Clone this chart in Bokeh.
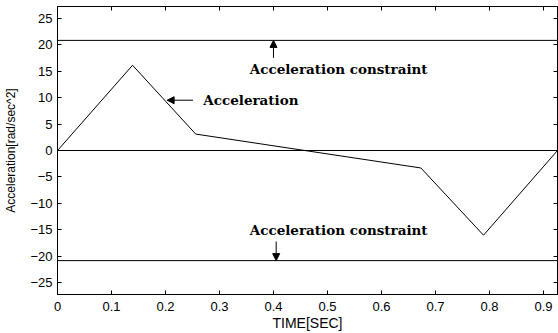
from bokeh.plotting import figure
from bokeh.models import Range1d, LinearAxis, FixedTicker, Arrow, NormalHead, Label, Span
from bokeh.embed import file_html
from bokeh.resources import INLINE

# data
time_s = [0.0, 0.139, 0.256, 0.673, 0.789, 0.926]
accel = [0.0, 16.1, 3.1, -3.3, -16.0, 0.0]
constraint = 20.8
x_ticks = [0, 0.1, 0.2, 0.3, 0.4, 0.5, 0.6, 0.7, 0.8, 0.9]
y_ticks = [-25, -20, -15, -10, -5, 0, 5, 10, 15, 20, 25]

p = figure(width=558, height=333, output_backend="svg", toolbar_location=None,
           x_range=Range1d(0, 0.926), y_range=Range1d(-27.2, 27.2),
           min_border_left=57, min_border_right=1, min_border_top=6, min_border_bottom=39)
p.grid.visible = False
p.outline_line_color = "black"
p.background_fill_color = "white"
p.border_fill_color = "white"

TICK_FONT = "Liberation Sans"

for ax in p.xaxis:
    ax.ticker = FixedTicker(ticks=x_ticks)
    ax.axis_label = "TIME[SEC]"
for ax in p.yaxis:
    ax.ticker = FixedTicker(ticks=y_ticks)
    ax.axis_label = "Acceleration[rad/sec^2]"

for ax in list(p.xaxis) + list(p.yaxis):
    ax.major_tick_in = 4
    ax.major_tick_out = 0
    ax.minor_tick_line_color = None
    ax.axis_line_color = "black"
    ax.major_tick_line_color = "black"
    ax.major_label_text_font = TICK_FONT
    ax.major_label_text_font_size = "13px"
    ax.major_label_text_color = "black"
    ax.axis_label_text_font = TICK_FONT
    ax.axis_label_text_font_style = "normal"
    ax.axis_label_text_color = "black"

p.xaxis.major_label_standoff = 7
p.xaxis.axis_label_text_font_size = "14px"
p.xaxis.axis_label_standoff = 1
p.yaxis.major_label_standoff = 5
p.yaxis.axis_label_text_font_size = "12px"
p.yaxis.axis_label_standoff = 9

# mirrored tick axes on top and right (ticks only, no labels)
right = LinearAxis(ticker=FixedTicker(ticks=y_ticks),
                   major_label_overrides={t: "" for t in y_ticks},
                   major_label_standoff=0, major_tick_in=4, major_tick_out=0,
                   minor_tick_line_color=None, axis_line_color="black")
top = LinearAxis(ticker=FixedTicker(ticks=x_ticks),
                 major_label_overrides={t: "" for t in x_ticks},
                 major_label_standoff=0, major_tick_in=4, major_tick_out=0,
                 minor_tick_line_color=None, axis_line_color="black")
p.add_layout(right, "right")
p.add_layout(top, "above")

# reference lines
for yv in (constraint, 0.0, -constraint):
    p.add_layout(Span(location=yv, dimension="width", line_color="black", line_width=1))

# acceleration curve
p.line(time_s, accel, line_color="black", line_width=1)

ANN_FONT = "DejaVu Serif"
def label(x, y, txt):
    p.add_layout(Label(x=x, y=y, text=txt, text_font=ANN_FONT, text_font_style="bold",
                       text_font_size="13.5px", text_color="black", text_baseline="middle",
                       text_align="left"))

label(0.356, 15.4, "Acceleration constraint")
label(0.356, -15.0, "Acceleration constraint")
label(0.270, 9.5, "Acceleration")

def arrow(x0, y0, x1, y1):
    p.add_layout(Arrow(x_start=x0, y_start=y0, x_end=x1, y_end=y1, line_color="black",
                       line_width=1,
                       end=NormalHead(size=7, fill_color="black", line_color="black")))

arrow(0.40, 17.5, 0.40, 20.8)
arrow(0.405, -17.2, 0.405, -20.8)
arrow(0.251, 9.5, 0.203, 9.5)

open("out.html", "w").write(file_html(p, INLINE))
